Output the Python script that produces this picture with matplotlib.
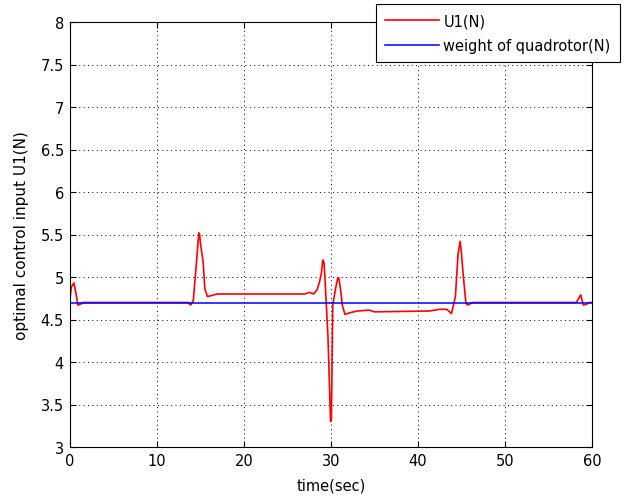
import matplotlib
matplotlib.use("Agg")
import matplotlib.pyplot as plt
import numpy as np

# ---- data ----
time_u1 = [0.0, 0.15, 0.45, 0.7, 0.9, 1.2, 1.5,
           13.6, 13.85, 14.17, 14.4, 14.6, 14.8, 14.9, 15.0, 15.3, 15.5, 15.8, 16.2, 16.9,
           27.0, 27.5, 28.0, 28.4, 28.7, 28.9, 29.05, 29.2, 29.35, 29.5, 29.65, 29.8, 29.95,
           30.05, 30.2, 30.5, 30.75, 30.9, 31.1, 31.3, 31.6, 32.2, 33.0, 34.4, 35.0,
           41.3, 42.5, 43.3, 43.85, 44.3, 44.6, 44.85, 45.0, 45.2, 45.5, 45.7, 46.1, 46.3,
           58.2, 58.7, 59.0, 59.4, 59.6, 60.0]
u1 = [4.74, 4.88, 4.93, 4.8, 4.67, 4.68, 4.7,
      4.7, 4.67, 4.72, 5.0, 5.25, 5.52, 5.5, 5.39, 5.18, 4.86, 4.77, 4.78, 4.8,
      4.8, 4.82, 4.8, 4.85, 4.95, 5.05, 5.2, 5.17, 4.9, 4.6, 4.3, 3.8, 3.3,
      3.35, 4.67, 4.85, 4.98, 4.99, 4.85, 4.67, 4.56, 4.58, 4.6, 4.61, 4.59,
      4.6, 4.62, 4.62, 4.57, 4.77, 5.27, 5.42, 5.27, 5.02, 4.7, 4.67, 4.69, 4.7,
      4.7, 4.79, 4.67, 4.68, 4.7, 4.7]
time_w = [0.0, 60.0]
weight = [4.7, 4.7]

x_ticks = [0, 10, 20, 30, 40, 50, 60]
y_ticks = [3, 3.5, 4, 4.5, 5, 5.5, 6, 6.5, 7, 7.5, 8]
y_ticklabels = ["3", "3.5", "4", "4.5", "5", "5.5", "6", "6.5", "7", "7.5", "8"]

plt.rcParams["font.family"] = ["DejaVu Sans"]
plt.rcParams["font.size"] = 10.5

fig = plt.figure(figsize=(6.26, 5.02), dpi=100)
ax = fig.add_axes([70/626, 1-448/502, (592-70)/626, (448-23)/502])

ax.plot(time_u1, u1, color=(1, 0, 0), lw=1.2, label="U1(N)")
ax.plot(time_w, weight, color=(0, 0, 1), lw=1.1, label="weight of quadrotor(N)")

ax.set_xlim(0, 60)
ax.set_ylim(3, 8)
ax.set_xticks(x_ticks)
ax.set_xticklabels([str(v) for v in x_ticks])
ax.set_yticks(y_ticks)
ax.set_yticklabels(y_ticklabels)

ax.grid(True, color="black", lw=0.7, linestyle=(0, (1, 3.5)))
ax.tick_params(direction="in", length=4, width=0.8, top=True, right=True,
               pad=4.5, colors="black", labelsize=10.5)
for s in ax.spines.values():
    s.set_linewidth(0.8)
    s.set_color("black")

ax.set_xlabel("time(sec)", fontsize=10.5, labelpad=6.5)
ax.set_ylabel("optimal control input U1(N)", fontsize=11, labelpad=8)

leg = fig.legend(loc="upper left", bbox_to_anchor=(376/626, 1-5/502),
                 bbox_transform=fig.transFigure, borderaxespad=0,
                 fancybox=False, shadow=False, framealpha=1, edgecolor="black",
                 handlelength=3.7, handletextpad=0.3, labelspacing=0.7,
                 borderpad=0.62, fontsize=10.5)
leg.get_frame().set_linewidth(0.8)

fig.savefig("out.png", dpi=100, facecolor="white")
